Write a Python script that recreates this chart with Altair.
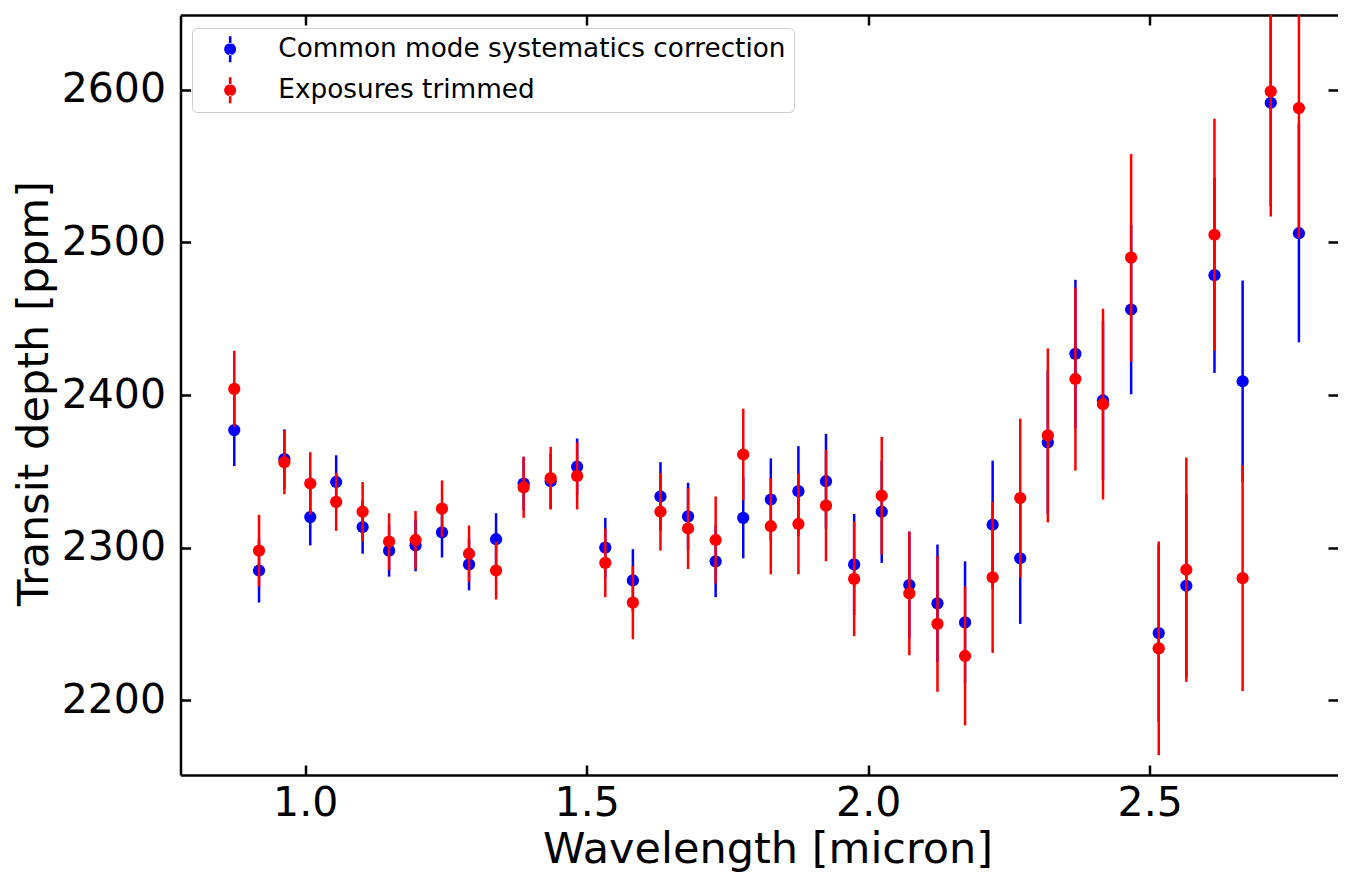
import altair as alt
import pandas as pd

# ---------------- data ----------------
wavelength = [0.874, 0.918, 0.963, 1.009, 1.055, 1.102, 1.149, 1.196, 1.243, 1.291,
              1.339, 1.388, 1.436, 1.483, 1.533, 1.582, 1.631, 1.680, 1.729, 1.778,
              1.827, 1.876, 1.925, 1.975, 2.024, 2.073, 2.123, 2.172, 2.221, 2.270,
              2.319, 2.368, 2.417, 2.467, 2.516, 2.565, 2.615, 2.665, 2.715, 2.765]

blue_depth = [2377, 2285, 2358, 2320, 2343, 2313.5, 2298, 2301.5, 2310, 2289,
              2305.5, 2342, 2343.5, 2353, 2300, 2278.5, 2333.5, 2320.5, 2291, 2319.5,
              2331.5, 2337, 2343.5, 2289, 2323.5, 2275.5, 2263.5, 2251, 2315, 2293,
              2369, 2427, 2396.5, 2456, 2244, 2275, 2478.5, 2409, 2591.5, 2506]
blue_err = [23.5, 21, 19.5, 18.5, 17.5, 17.5, 17, 17, 16.5, 17,
            17, 17.5, 18, 18.5, 19.5, 20.5, 22.5, 22, 23.5, 26.5,
            27, 29.5, 31, 33, 33.5, 35, 38.5, 40, 42, 43,
            47, 48.5, 52, 55.5, 58, 60, 64, 66, 68, 71.5]

red_depth = [2404, 2298, 2356, 2342, 2330, 2323.5, 2304, 2305, 2325.5, 2296,
             2285, 2339.5, 2345.5, 2347, 2290, 2264, 2323.5, 2312.5, 2305, 2361,
             2314, 2315.5, 2327.5, 2279.5, 2334, 2270, 2250, 2229, 2280.5, 2332.5,
             2373.5, 2410.5, 2394, 2490, 2234, 2285.5, 2505, 2280, 2599, 2588]
red_err = [25, 23.5, 21, 20.5, 19, 19.5, 18.5, 19, 18.5, 18.5,
           19, 20, 20.5, 22, 22.5, 24, 25.5, 26.5, 28.5, 30,
           31.5, 33, 36.5, 37.5, 38.5, 40.5, 44.5, 45.5, 49.5, 52,
           57, 60, 62.5, 68, 70, 73.5, 76, 74, 82, 85]

series_names = ["Common mode systematics correction", "Exposures trimmed"]
series_colors = ["#0000ff", "#ff0000"]
x_ticks = [1.0, 1.5, 2.0, 2.5]
y_ticks = [2200, 2300, 2400, 2500, 2600]

rows = []
for name, depth, err in [(series_names[0], blue_depth, blue_err),
                         (series_names[1], red_depth, red_err)]:
    for w, v, e in zip(wavelength, depth, err):
        rows.append({"wl": w, "depth": v, "lo": v - e, "hi": v + e, "series": name})
df = pd.DataFrame(rows)

FONT = "DejaVu Sans"
xscale = alt.Scale(domain=[0.7785, 2.8344], nice=False, zero=False)
yscale = alt.Scale(domain=[2151, 2649], nice=False, zero=False)
cscale = alt.Scale(domain=series_names, range=series_colors)

# ---------------- axes ----------------
main_x = alt.Axis(orient="bottom", values=x_ticks, format=".1f", grid=False,
                  domain=True, domainColor="black", domainWidth=2.5,
                  ticks=False, tickSize=0, labelFont=FONT, labelFontSize=41,
                  labelColor="black", labelPadding=40, labelBaseline="alphabetic",
                  labelFlush=False,
                  title="Wavelength [micron]", titleFont=FONT, titleFontSize=43,
                  titleFontWeight="normal", titleColor="black",
                  titleX=587, titleY=87, titleAlign="center", titleBaseline="alphabetic")
main_y = alt.Axis(orient="left", values=y_ticks, format="d", grid=False,
                  domain=True, domainColor="black", domainWidth=2.5,
                  ticks=False, tickSize=0, labelFont=FONT, labelFontSize=41,
                  labelColor="black", labelPadding=15, labelFlush=False,
                  title="Transit depth [ppm]", titleFont=FONT, titleFontSize=43,
                  titleFontWeight="normal", titleColor="black",
                  titleX=-146, titleY=378, titleAngle=270, titleAlign="center",
                  titleBaseline="middle")


def tick_axis(orient, values):
    return alt.Axis(orient=orient, offset=-10, values=values, grid=False,
                    domain=False, labels=False, ticks=True, tickSize=10,
                    tickWidth=2.5, tickColor="black", title=None)


top_spine = alt.Axis(orient="top", values=x_ticks, grid=False, domain=True,
                     domainColor="black", domainWidth=2.5, ticks=False,
                     labels=False, title=None)

legend_symbol = ("M -0.46,0 A 0.46,0.46 0 1,0 0.46,0 A 0.46,0.46 0 1,0 -0.46,0 Z "
                 "M -0.1,-1 L 0.1,-1 L 0.1,-0.4 L -0.1,-0.4 Z "
                 "M -0.1,0.4 L 0.1,0.4 L 0.1,1 L -0.1,1 Z")
legend = alt.Legend(title=None, orient="none", legendX=11.5, legendY=13,
                    direction="vertical", symbolType=legend_symbol, symbolSize=676,
                    symbolStrokeWidth=0, symbolOpacity=1, symbolOffset=17,
                    labelFont=FONT, labelFontSize=26.3, labelColor="black",
                    labelOffset=35, labelLimit=1000, rowPadding=14, padding=8,
                    strokeColor="#cccccc", fillColor="rgba(255,255,255,0.8)",
                    cornerRadius=5)

base = alt.Chart(df)

blue_bars = base.transform_filter(alt.datum.series == series_names[0]).mark_rule(
    strokeWidth=2.5, color=series_colors[0], clip=True
).encode(
    x=alt.X("wl:Q", scale=xscale, axis=main_x),
    y=alt.Y("lo:Q", scale=yscale, axis=main_y),
    y2="hi:Q",
)

blue_pts = base.transform_filter(alt.datum.series == series_names[0]).mark_circle(
    size=150, opacity=1, clip=True
).encode(
    x=alt.X("wl:Q", scale=xscale, axis=tick_axis("bottom", x_ticks)),
    y=alt.Y("depth:Q", scale=yscale, axis=tick_axis("left", y_ticks)),
    color=alt.Color("series:N", scale=cscale, legend=legend),
)

red_bars = base.transform_filter(alt.datum.series == series_names[1]).mark_rule(
    strokeWidth=2.5, color=series_colors[1], clip=True
).encode(
    x=alt.X("wl:Q", scale=xscale, axis=tick_axis("top", x_ticks)),
    y=alt.Y("lo:Q", scale=yscale, axis=tick_axis("right", y_ticks)),
    y2="hi:Q",
)

red_pts = base.transform_filter(alt.datum.series == series_names[1]).mark_circle(
    size=150, opacity=1, clip=True
).encode(
    x=alt.X("wl:Q", scale=xscale, axis=top_spine),
    y=alt.Y("depth:Q", scale=yscale, axis=None),
    color=alt.Color("series:N", scale=cscale, legend=legend),
)

chart = alt.layer(blue_bars, blue_pts, red_bars, red_pts).resolve_axis(
    x="independent", y="independent"
).properties(
    width=1157.5, height=760,
    padding={"left": 172.5, "top": 7, "right": 0, "bottom": 97},
    autosize=alt.AutoSizeParams(type="none"),
).configure_view(stroke=None)

chart.save("out.html", embed_options={"renderer": "svg", "actions": False})
